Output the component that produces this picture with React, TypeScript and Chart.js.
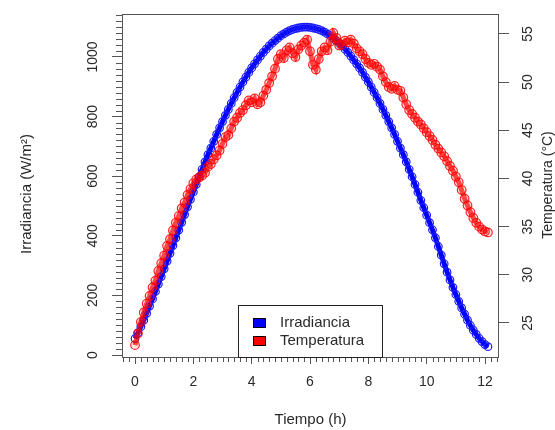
import { useEffect, useRef } from "react";
import { Chart, registerables } from "chart.js";

Chart.register(...registerables);

const hours = [
  0, 0.1, 0.2, 0.3, 0.4, 0.5, 0.6, 0.7, 0.8, 0.9,
  1, 1.1, 1.2, 1.3, 1.4, 1.5, 1.6, 1.7, 1.8, 1.9,
  2, 2.1, 2.2, 2.3, 2.4, 2.5, 2.6, 2.7, 2.8, 2.9,
  3, 3.1, 3.2, 3.3, 3.4, 3.5, 3.6, 3.7, 3.8, 3.9,
  4, 4.1, 4.2, 4.3, 4.4, 4.5, 4.6, 4.7, 4.8, 4.9,
  5, 5.1, 5.2, 5.3, 5.4, 5.5, 5.6, 5.7, 5.8, 5.9,
  6, 6.1, 6.2, 6.3, 6.4, 6.5, 6.6, 6.7, 6.8, 6.9,
  7, 7.1, 7.2, 7.3, 7.4, 7.5, 7.6, 7.7, 7.8, 7.9,
  8, 8.1, 8.2, 8.3, 8.4, 8.5, 8.6, 8.7, 8.8, 8.9,
  9, 9.1, 9.2, 9.3, 9.4, 9.5, 9.6, 9.7, 9.8, 9.9,
  10, 10.1, 10.2, 10.3, 10.4, 10.5, 10.6, 10.7, 10.8, 10.9,
  11, 11.1, 11.2, 11.3, 11.4, 11.5, 11.6, 11.7, 11.8, 11.9,
  12, 12.1,
];

const irradiance = [
  55, 74, 95, 117, 140, 164, 188, 213, 238, 263,
  289, 315, 341, 367, 393, 419, 445, 471, 497, 522,
  547, 572, 598, 623, 648, 672, 694, 717, 740, 762,
  783, 804, 824, 844, 863, 881, 899, 916, 932, 948,
  963, 977, 990, 1003, 1015, 1026, 1037, 1046, 1055, 1063,
  1071, 1077, 1083, 1088, 1092, 1095, 1097, 1099, 1100, 1100,
  1099, 1097, 1095, 1092, 1088, 1083, 1077, 1071, 1063, 1055,
  1046, 1037, 1026, 1015, 1003, 990, 977, 963, 948, 932,
  916, 899, 881, 863, 844, 824, 804, 783, 762, 740,
  717, 694, 672, 648, 623, 598, 572, 546, 519, 494,
  469, 444, 420, 393, 364, 335, 306, 278, 252, 227,
  203, 180, 158, 137, 117, 99, 83, 69, 56, 45,
  35, 28,
];

const temperature = [
  22.7, 23.9, 25.1, 26.1, 27.0, 27.8, 28.7, 29.4, 30.4, 31.2,
  32.0, 33.0, 33.7, 34.6, 35.4, 36.1, 36.9, 37.5, 38.3, 38.9,
  39.5, 39.9, 40.1, 40.3, 40.6, 41.2, 41.5, 42.0, 42.4, 42.9,
  43.6, 44.3, 44.5, 45.2, 45.9, 46.3, 46.8, 47.1, 47.6, 48.1,
  47.9, 48.3, 47.7, 47.9, 48.6, 49.2, 49.9, 50.6, 51.4, 52.4,
  52.9, 52.5, 53.3, 53.6, 53.0, 52.6, 53.4, 53.8, 54.1, 54.4,
  53.2, 51.8, 51.3, 52.4, 53.2, 53.6, 53.3, 54.2, 55.1, 54.6,
  53.8, 53.9, 54.3, 54.1, 54.4, 54.0, 53.5, 53.2, 52.9, 52.4,
  52.0, 51.8, 51.9, 51.6, 51.3, 50.6, 50.0, 49.5, 49.3, 49.6,
  49.2, 49.1, 48.4, 47.7, 47.1, 46.7, 46.3, 45.9, 45.6, 45.2,
  44.8, 44.4, 44.0, 43.5, 43.1, 42.7, 42.3, 41.8, 41.3, 40.8,
  40.2, 39.6, 38.8, 37.9, 37.2, 36.5, 35.9, 35.4, 35.0, 34.7,
  34.5, 34.4,
];

const xTicks = [0, 2, 4, 6, 8, 10, 12];
const irrTicks = [0, 200, 400, 600, 800, 1000];
const tempTicks = [25, 30, 35, 40, 45, 50, 55];
const legendLabels = ["Irradiancia", "Temperatura"];
const legendColors = ["#0000ff", "#ff0000"];

const FONT = "'Liberation Sans', Arial, Helvetica, sans-serif";
const TEXT = "#2a2a2a";
const AXIS = "#555";

const decorPlugin = {
  id: "rDecor",
  afterDraw(chart: any) {
    const ctx = chart.ctx as CanvasRenderingContext2D;
    const { left, right, top, bottom } = chart.chartArea;
    const xs = chart.scales.x;
    const ys = chart.scales.y;
    ctx.save();
    // box
    ctx.strokeStyle = AXIS;
    ctx.lineWidth = 1;
    ctx.strokeRect(Math.round(left) + 0.5, Math.round(top) + 0.5, Math.round(right - left) - 1, Math.round(bottom - top));
    // minor ticks
    ctx.beginPath();
    for (let k = 1; k * 20 <= ys.max; k++) {
      if (k % 10 === 0) continue;
      const py = Math.round(ys.getPixelForValue(k * 20)) + 0.5;
      ctx.moveTo(left, py);
      ctx.lineTo(left - 6, py);
    }
    for (let k = -2; k * 0.2 <= xs.max; k++) {
      if (k % 10 === 0) continue;
      const px = Math.round(xs.getPixelForValue(k * 0.2)) + 0.5;
      ctx.moveTo(px, bottom);
      ctx.lineTo(px, bottom + 5);
    }
    ctx.stroke();

    // axis titles
    ctx.fillStyle = TEXT;
    ctx.textAlign = "center";
    ctx.textBaseline = "middle";
    ctx.font = `15px ${FONT}`;
    ctx.fillText("Tiempo (h)", (left + right) / 2, 420);
    ctx.save();
    ctx.translate(27, 194);
    ctx.rotate(-Math.PI / 2);
    ctx.fillText("Irradiancia (W/m²)", 0, 0);
    ctx.restore();
    ctx.save();
    ctx.font = `14px ${FONT}`;
    ctx.translate(548, 185);
    ctx.rotate(-Math.PI / 2);
    ctx.fillText("Temperatura (°C)", 0, 0);
    ctx.restore();

    // legend
    const lx = 238, ly = 305, lw = 144, lh = bottom - 305;
    ctx.fillStyle = "#fff";
    ctx.fillRect(lx, ly, lw, lh);
    ctx.strokeStyle = "#222";
    ctx.strokeRect(lx + 0.5, ly + 0.5, lw, lh);
    ctx.font = `15px ${FONT}`;
    ctx.textAlign = "left";
    legendLabels.forEach((lab, i) => {
      const cy = 323 + i * 18;
      ctx.fillStyle = legendColors[i];
      ctx.fillRect(253, cy - 5, 13, 10);
      ctx.strokeStyle = "#000";
      ctx.strokeRect(253.5, cy - 4.5, 12, 9);
      ctx.fillStyle = TEXT;
      ctx.fillText(lab, 280, cy);
    });
    ctx.restore();
  },
};

export default function App() {
  const ref = useRef<HTMLCanvasElement | null>(null);
  useEffect(() => {
    document.body.style.margin = "0";
    if (!ref.current) return;
    const tickFont = { family: FONT, size: 14 };
    const chart = new Chart(ref.current, {
      type: "scatter",
      data: {
        datasets: [
          {
            label: legendLabels[1],
            data: hours.map((h, i) => ({ x: h, y: temperature[i] })),
            yAxisID: "y2",
            showLine: true,
            borderColor: "rgba(255,0,0,0.7)",
            borderWidth: 5,
            pointRadius: 4.3,
            pointBorderWidth: 1.2,
            pointBorderColor: "rgba(255,0,0,0.85)",
            pointBackgroundColor: "rgba(255,0,0,0.1)",
          },
          {
            label: legendLabels[0],
            data: hours.map((h, i) => ({ x: h, y: irradiance[i] })),
            yAxisID: "y",
            showLine: true,
            borderColor: "#0000ff",
            borderWidth: 5,
            pointRadius: 3.8,
            pointBorderWidth: 1.2,
            pointBorderColor: "#1a1aff",
            pointBackgroundColor: "rgba(0,0,255,0)",
          },
        ],
      },
      options: {
        animation: false,
        responsive: false,
        events: [],
        layout: { padding: { top: 14, left: 0, right: 0, bottom: 0 } },
        plugins: { legend: { display: false }, tooltip: { enabled: false } },
        scales: {
          x: {
            type: "linear",
            position: "bottom",
            min: -0.446,
            max: 12.48,
            border: { display: false },
            grid: { drawOnChartArea: false, tickLength: 7, tickColor: AXIS },
            afterBuildTicks: (s: any) => { s.ticks = xTicks.map((v) => ({ value: v })); },
            afterFit: (s: any) => { s.height = 73; s.paddingLeft = 0; s.paddingRight = 0; },
            ticks: { font: tickFont, color: TEXT, padding: 10, maxRotation: 0, autoSkip: false, callback: (v: any) => String(v) },
          },
          y: {
            type: "linear",
            position: "left",
            min: -6.7,
            max: 1144,
            border: { display: false },
            grid: { drawOnChartArea: false, tickLength: 10, tickColor: AXIS },
            afterBuildTicks: (s: any) => { s.ticks = irrTicks.map((v) => ({ value: v })); },
            afterFit: (s: any) => { s.width = 122; s.paddingTop = 0; s.paddingBottom = 0; },
            ticks: { font: tickFont, color: TEXT, padding: 3, minRotation: 90, maxRotation: 90, crossAlign: "center", autoSkip: false, callback: (v: any) => String(v) },
          },
          y2: {
            type: "linear",
            position: "right",
            min: 21.47,
            max: 57.07,
            border: { display: false },
            grid: { drawOnChartArea: false, tickLength: 10, tickColor: AXIS },
            afterBuildTicks: (s: any) => { s.ticks = tempTicks.map((v) => ({ value: v })); },
            afterFit: (s: any) => { s.width = 56; s.paddingTop = 0; s.paddingBottom = 0; },
            ticks: { font: tickFont, color: TEXT, padding: 11, minRotation: 90, maxRotation: 90, crossAlign: "center", autoSkip: false, callback: (v: any) => String(v) },
          },
        },
      } as any,
      plugins: [decorPlugin],
    });
    return () => chart.destroy();
  }, []);
  return (
    <div style={{ width: 555, height: 430, position: "relative", background: "#fff" }}>
      <canvas ref={ref} width={555} height={430} style={{ width: 555, height: 430, display: "block" }} />
    </div>
  );
}
